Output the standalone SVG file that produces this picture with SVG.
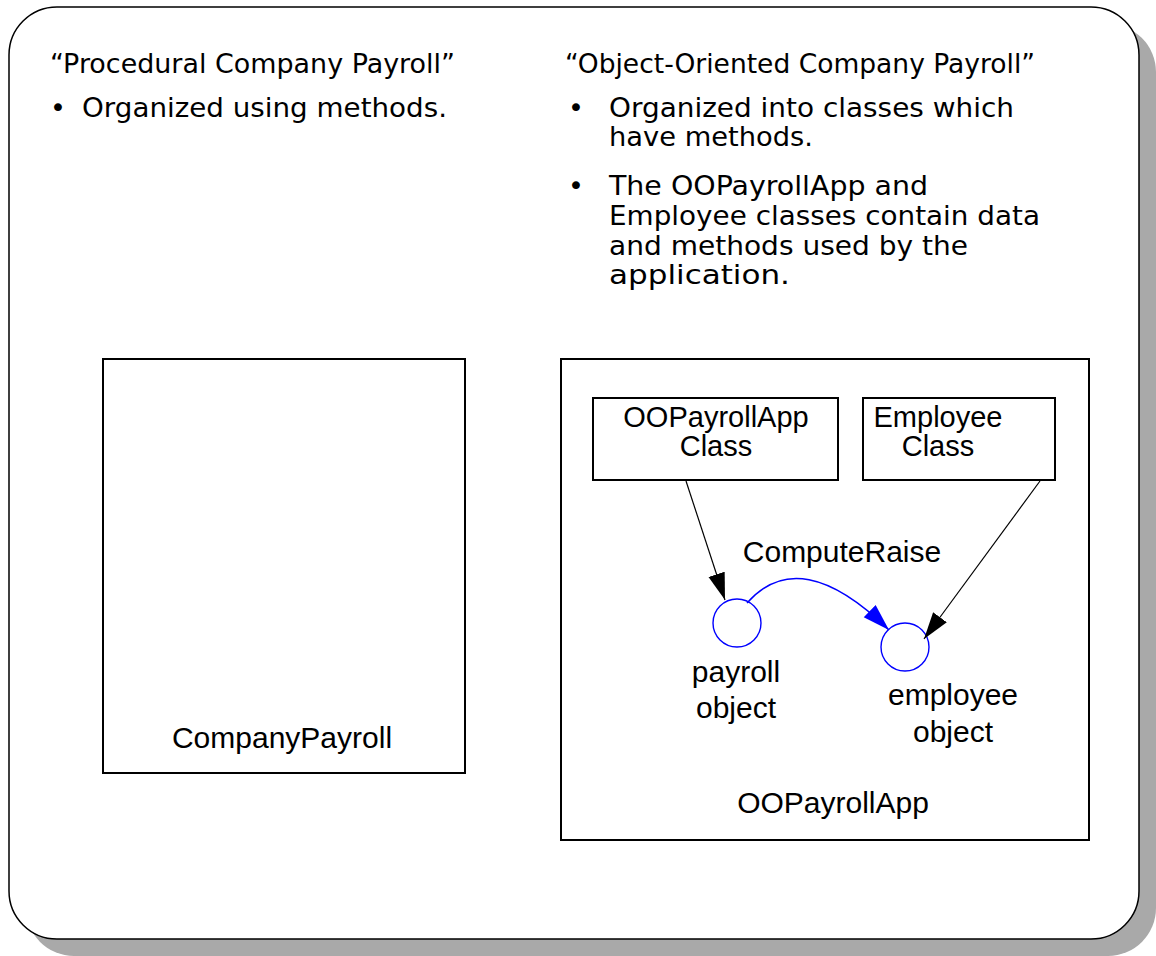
<svg xmlns="http://www.w3.org/2000/svg" width="1156" height="956" viewBox="0 0 1156 956">
  <defs>
    <style>
      .head { font-family: "DejaVu Sans", Verdana, sans-serif; font-size: 27px; fill: #000; }
      .lbl { font-family: "Liberation Sans", Arial, sans-serif; font-size: 30px; fill: #000; text-anchor: middle; }
      .cls { font-size: 29px; }
      .box { fill: #fff; stroke: #000; stroke-width: 2; }
      .link { fill: none; stroke: #000; stroke-width: 1.2; }
      .call { fill: none; stroke: #0000ff; stroke-width: 1.4; }
      .obj { fill: #fff; stroke: #0000ff; stroke-width: 1.4; }
    </style>
    <marker id="arrowBlack" markerUnits="userSpaceOnUse" markerWidth="30" markerHeight="18" refX="27" refY="8.5" orient="auto">
      <path d="M0,0 L27,8.5 L0,17 z" fill="#000"/>
    </marker>
    <marker id="arrowBlue" markerUnits="userSpaceOnUse" markerWidth="30" markerHeight="18" refX="27" refY="8.5" orient="auto">
      <path d="M0,0 L27,8.5 L0,17 z" fill="#0000ff"/>
    </marker>
  </defs>

  <!-- slide frame with drop shadow -->
  <rect x="26" y="24" width="1130" height="932" rx="48" ry="48" fill="#a9a9a9"/>
  <rect x="9" y="7" width="1130" height="932" rx="48" ry="48" fill="#fff" stroke="#000" stroke-width="1.5"/>

  <!-- left column text -->
  <g id="procedural-text">
    <text class="head" x="50" y="73" textLength="405" lengthAdjust="spacingAndGlyphs">“Procedural Company Payroll”</text>
    <text class="head" x="50" y="117">•</text>
    <text class="head" x="82" y="117" textLength="365" lengthAdjust="spacingAndGlyphs">Organized using methods.</text>
  </g>

  <!-- right column text -->
  <g id="oo-text">
    <text class="head" x="565" y="73" textLength="470" lengthAdjust="spacingAndGlyphs">“Object-Oriented Company Payroll”</text>
    <text class="head" x="568" y="117">•</text>
    <text class="head" x="609" y="117" textLength="405" lengthAdjust="spacingAndGlyphs">Organized into classes which</text>
    <text class="head" x="609" y="146" textLength="204" lengthAdjust="spacingAndGlyphs">have methods.</text>
    <text class="head" x="568" y="195">•</text>
    <text class="head" x="609" y="195" textLength="319" lengthAdjust="spacingAndGlyphs">The OOPayrollApp and</text>
    <text class="head" x="609" y="225" textLength="431" lengthAdjust="spacingAndGlyphs">Employee classes contain data</text>
    <text class="head" x="609" y="255" textLength="359" lengthAdjust="spacingAndGlyphs">and methods used by the</text>
    <text class="head" x="609" y="284" textLength="181" lengthAdjust="spacingAndGlyphs">application.</text>
  </g>

  <!-- procedural program -->
  <g id="company-payroll">
    <rect class="box" x="103" y="359" width="362" height="414"/>
    <text class="lbl" x="282" y="748">CompanyPayroll</text>
  </g>

  <!-- object-oriented application -->
  <g id="oopayrollapp">
    <rect class="box" x="561" y="359" width="528" height="481"/>
    <text class="lbl" x="833" y="813">OOPayrollApp</text>
  </g>

  <g id="oopayrollapp-class">
    <rect class="box" x="593" y="398" width="245" height="82"/>
    <text class="lbl cls" x="716" y="427">OOPayrollApp</text>
    <text class="lbl cls" x="716" y="456">Class</text>
  </g>

  <g id="employee-class">
    <rect class="box" x="863" y="398" width="192" height="82"/>
    <text class="lbl cls" x="938" y="427">Employee</text>
    <text class="lbl cls" x="938" y="456">Class</text>
  </g>

  <g id="payroll-object">
    <circle class="obj" cx="737" cy="623" r="24"/>
    <text class="lbl" x="736" y="682">payroll</text>
    <text class="lbl" x="736" y="718">object</text>
  </g>

  <g id="employee-object">
    <circle class="obj" cx="905" cy="647" r="24"/>
    <text class="lbl" x="953" y="705">employee</text>
    <text class="lbl" x="953" y="742">object</text>
  </g>

  <!-- connectors -->
  <g id="connectors">
    <line class="link" x1="686" y1="481" x2="725" y2="600" marker-end="url(#arrowBlack)"/>
    <line class="link" x1="1040" y1="481" x2="924" y2="639" marker-end="url(#arrowBlack)"/>
    <path class="call" d="M747,603 Q800,543 889,630" marker-end="url(#arrowBlue)"/>
    <text class="lbl" x="842" y="562">ComputeRaise</text>
  </g>
</svg>
